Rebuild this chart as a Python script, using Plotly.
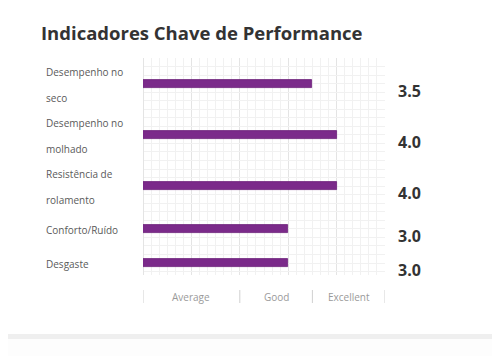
import numpy as np
import plotly.graph_objects as go

# ---- data ----
categories = ["Desempenho no<br>seco", "Desempenho no<br>molhado", "Resistência de<br>rolamento",
              "Conforto/Ruído", "Desgaste"]
scores = [3.5, 4.0, 4.0, 3.0, 3.0]
scale_labels = ["Average", "Good", "Excellent"]
scale_bounds = [0, 2, 3.5, 5]
title_text = "Indicadores Chave de Performance"

# ---- layout helpers (page pixel positions; page body has an 8px margin) ----
W, H = 500, 356
OFF = 8
PX0, PX1 = 143, 385      # plot area x on page
PY0, PY1 = 58, 275       # plot area y on page
L = PX0 - OFF
T = PY0 - OFF
R = W - (PX1 - OFF)
B = H - (PY1 - OFF)
plot_w = PX1 - PX0
plot_h = PY1 - PY0

def pxx(page_x):
    return (page_x - PX0) / plot_w

def pyy(page_y):
    return (PY1 - page_y) / plot_h

lines = [len(c.split("<br>")) for c in categories]
weights = [n + 1 for n in lines]
edges = np.concatenate([[0], np.cumsum(weights)])
centers = (edges[:-1] + edges[1:]) / 2
y_top_range = edges[-1] - 0.3
px_per_unit = plot_h / y_top_range

FONT = "Open Sans"
fig = go.Figure()
fig.add_trace(go.Bar(
    x=scores, y=centers, orientation="h", width=8 / px_per_unit,
    marker=dict(color="#7B2A8A", line=dict(color="#6B1F7A", width=0.8)),
    hoverinfo="skip", showlegend=False,
))

ann = []
for c, yc, v in zip(categories, centers, scores):
    parts = c.split("<br>")
    n = len(parts)
    for i, p in enumerate(parts):
        shift = (n - 1) / 2 * 26 - i * 26
        ann.append(dict(x=pxx(44), xref="paper", y=yc, yref="y",
                        text=p, showarrow=False, xanchor="left", yanchor="middle",
                        yshift=shift - 1, font=dict(family=FONT, size=10, color="#5a5a5a")))
    ann.append(dict(x=pxx(396), xref="paper", y=yc, yref="y",
                    text=f"{v:.1f}", showarrow=False, xanchor="left", yanchor="middle",
                    yshift=-7, font=dict(family=FONT, size=16, color="#333333", weight="bold")))

shapes = []
for b in scale_bounds:
    shapes.append(dict(type="line", xref="x", yref="paper", x0=b, x1=b, y0=pyy(290), y1=pyy(303),
                       line=dict(color="#d0d0d0", width=1)))
for lab, a, b in zip(scale_labels, scale_bounds[:-1], scale_bounds[1:]):
    ann.append(dict(x=(a + b) / 2, xref="x", y=pyy(297), yref="paper", text=lab, showarrow=False,
                    xanchor="center", yanchor="middle",
                    font=dict(family=FONT, size=10, color="#9a9a9a")))

# bottom page band
shapes.append(dict(type="rect", xref="paper", yref="paper", x0=pxx(0), x1=pxx(510),
                   y0=pyy(339), y1=pyy(334), fillcolor="#efefef", line=dict(width=0), layer="below"))
shapes.append(dict(type="rect", xref="paper", yref="paper", x0=pxx(0), x1=pxx(510),
                   y0=pyy(370), y1=pyy(339), fillcolor="#fdfdfd", line=dict(width=0), layer="below"))

ann.append(dict(x=pxx(39), xref="paper", y=pyy(33), yref="paper",
                text=title_text, showarrow=False, xanchor="left", yanchor="middle",
                font=dict(family=FONT, size=18.5, color="#333333", weight="bold")))

fig.update_layout(
    width=W, height=H, margin=dict(l=L, r=R, t=T, b=B),
    paper_bgcolor="white", plot_bgcolor="white",
    annotations=ann, shapes=shapes, bargap=0,
    xaxis=dict(range=[0, 5], dtick=1, tick0=0, showticklabels=False, ticks="",
               showgrid=True, gridcolor="#e4e4e4", gridwidth=1,
               zeroline=True, zerolinecolor="#e4e4e4", zerolinewidth=1,
               minor=dict(dtick=1 / 6, showgrid=True, gridcolor="#f1f1f1", gridwidth=1),
               fixedrange=True),
    yaxis=dict(range=[y_top_range, 0], tick0=0, dtick=0.5, showticklabels=False, ticks="",
               showgrid=True, gridcolor="#f1f1f1", gridwidth=1, zeroline=False,
               fixedrange=True),
)
fig.write_html("out.html")
